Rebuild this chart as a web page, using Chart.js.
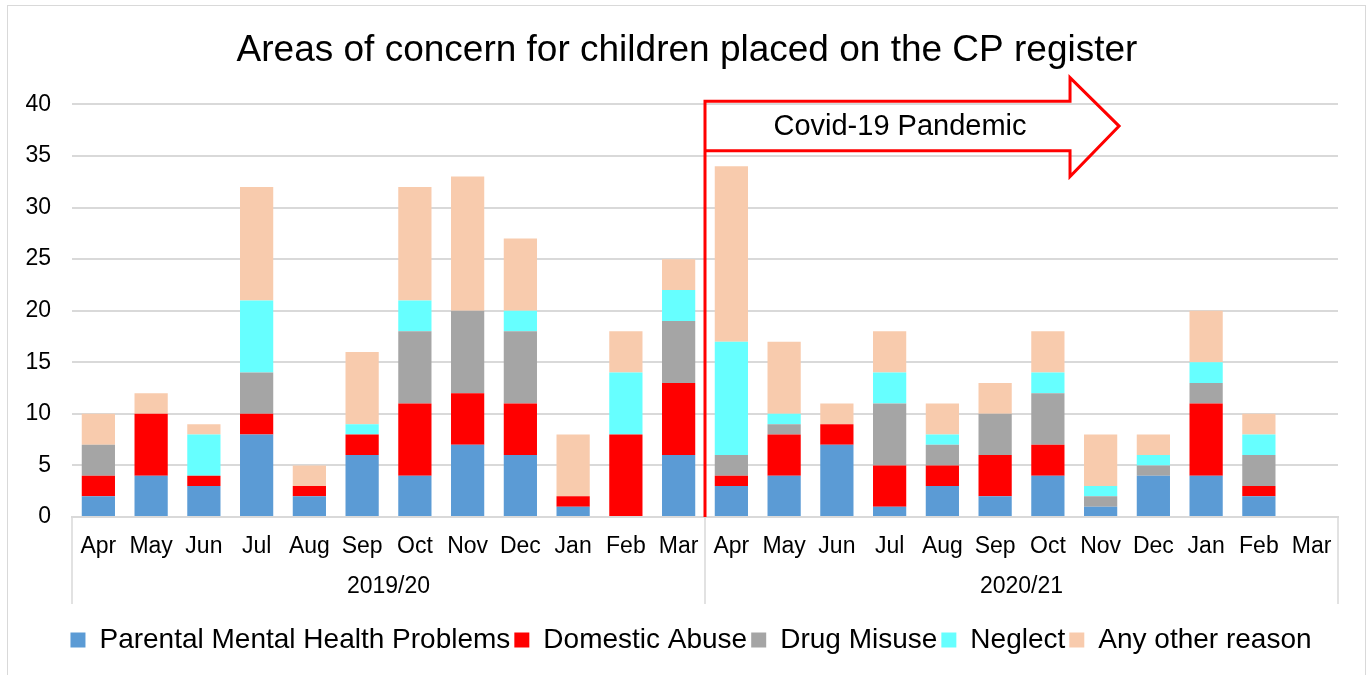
<!DOCTYPE html>
<html>
<head>
<meta charset="utf-8">
<script src="https://cdn.jsdelivr.net/npm/chart.js@4.4.1/dist/chart.umd.min.js"></script>
<style>
  html, body { margin: 0; padding: 0; background: #fff; }
  #wrap { width: 1368px; height: 675px; position: relative; }
</style>
</head>
<body>
<div id="wrap"><canvas id="cpChart" width="1368" height="675"></canvas></div>
<script>
// Data kategori (bulan) dan tahun
const months = ['Apr', 'May', 'Jun', 'Jul', 'Aug', 'Sep', 'Oct', 'Nov', 'Dec', 'Jan', 'Feb', 'Mar',
                'Apr', 'May', 'Jun', 'Jul', 'Aug', 'Sep', 'Oct', 'Nov', 'Dec', 'Jan', 'Feb', 'Mar'];
const years = ['2019/20', '2020/21'];

// Nilai per seri
const parentalMentalHealth = [2, 4, 3, 8, 2, 6, 4, 7, 6, 1, 0, 6,   3, 4, 7, 1, 3, 2, 4, 1, 4, 4, 2, 0];
const domesticAbuse        = [2, 6, 1, 2, 1, 2, 7, 5, 5, 1, 8, 7,   1, 4, 2, 4, 2, 4, 3, 0, 0, 7, 1, 0];
const drugMisuse           = [3, 0, 0, 4, 0, 0, 7, 8, 7, 0, 0, 6,   2, 1, 0, 6, 2, 4, 5, 1, 1, 2, 3, 0];
const neglect              = [0, 0, 4, 7, 0, 1, 3, 0, 2, 0, 6, 3,  11, 1, 0, 3, 1, 0, 2, 1, 1, 2, 2, 0];
const otherReason          = [3, 2, 1, 11, 2, 7, 11, 13, 7, 6, 4, 3, 17, 7, 2, 4, 3, 3, 4, 5, 2, 5, 2, 0];

const yTicks = [0, 5, 10, 15, 20, 25, 30, 35, 40];
const covidLabel = 'Covid-19 Pandemic';

const FONT = '"Liberation Sans", Arial, sans-serif';

// Geser judul dan legenda agar tengahnya sama dengan gambar asli
const shiftPlugin = {
  id: 'shift',
  afterLayout(chart) {
    chart.titleBlock.left += 18;
    chart.titleBlock.right += 18;
    chart.legend.left += 22;
    chart.legend.right += 22;
  }
};

// Plugin untuk bingkai, label tahun dan panah Covid
const extrasPlugin = {
  id: 'extras',
  afterDraw(chart) {
    const ctx = chart.ctx;
    const x = chart.scales.x;
    const y = chart.scales.y;
    const area = chart.chartArea;
    const step = x.getPixelForValue(1) - x.getPixelForValue(0);
    const split = x.getPixelForValue(11) + step / 2;

    ctx.save();
    // bingkai luar
    ctx.strokeStyle = '#d9d9d9';
    ctx.lineWidth = 1;
    ctx.strokeRect(7.5, 5.5, 1358, 700);

    // garis pemisah grup tahun
    ctx.strokeStyle = '#d9d9d9';
    ctx.lineWidth = 1.5;
    [area.left, split, area.right].forEach(px => {
      ctx.beginPath();
      ctx.moveTo(px, area.bottom);
      ctx.lineTo(px, area.bottom + 87);
      ctx.stroke();
    });

    // label tahun
    ctx.fillStyle = '#000';
    ctx.font = '23px ' + FONT;
    ctx.textAlign = 'center';
    ctx.textBaseline = 'middle';
    ctx.fillText(years[0], (area.left + split) / 2, area.bottom + 70);
    ctx.fillText(years[1], (split + area.right) / 2, area.bottom + 70);

    // panah Covid
    const bodyTop = y.getPixelForValue(40.3);
    const bodyBot = y.getPixelForValue(35.5);
    const headTop = y.getPixelForValue(42.6);
    const headBot = y.getPixelForValue(33.0);
    const tipY = (bodyTop + bodyBot) / 2;
    const headX = x.getPixelForValue(18.42);
    const tipX = x.getPixelForValue(19.35);

    ctx.strokeStyle = '#ff0000';
    ctx.lineWidth = 3;
    ctx.lineJoin = 'miter';
    ctx.beginPath();
    ctx.moveTo(split, area.bottom);
    ctx.lineTo(split, bodyTop);
    ctx.lineTo(headX, bodyTop);
    ctx.lineTo(headX, headTop);
    ctx.lineTo(tipX, tipY);
    ctx.lineTo(headX, headBot);
    ctx.lineTo(headX, bodyBot);
    ctx.lineTo(split, bodyBot);
    ctx.stroke();

    ctx.fillStyle = '#000';
    ctx.font = '29px ' + FONT;
    ctx.fillText(covidLabel, 900, tipY + 1);
    ctx.restore();
  }
};

const ctx = document.getElementById('cpChart').getContext('2d');
const makeSet = (label, data, color) => ({
  label: label,
  data: data,
  backgroundColor: color,
  borderWidth: 0,
  categoryPercentage: 1.0,
  barPercentage: 0.63,
});

const cpChart = new Chart(ctx, {
  type: 'bar',
  data: {
    labels: months,
    datasets: [
      makeSet('Parental Mental Health Problems', parentalMentalHealth, '#5b9bd5'),
      makeSet('Domestic Abuse', domesticAbuse, '#ff0000'),
      makeSet('Drug Misuse', drugMisuse, '#a5a5a5'),
      makeSet('Neglect', neglect, '#66ffff'),
      makeSet('Any other reason', otherReason, '#f8cbad'),
    ],
  },
  options: {
    responsive: false,
    animation: false,
    layout: { padding: { left: 0, right: 30, top: 10, bottom: 11 } },
    plugins: {
      title: {
        display: true,
        text: 'Areas of concern for children placed on the CP register',
        color: '#000',
        font: { family: FONT, size: 37, weight: 'normal' },
        padding: { top: 19, bottom: 31 },
      },
      legend: {
        position: 'bottom',
        labels: {
          color: '#000',
          font: { family: FONT, size: 28 },
          boxWidth: 15,
          boxHeight: 15,
          padding: 4,
        },
      },
      tooltip: { enabled: false },
    },
    scales: {
      x: {
        stacked: true,
        grid: { display: false, drawTicks: false },
        border: { display: true, color: '#d9d9d9', width: 2 },
        ticks: {
          color: '#000',
          font: { family: FONT, size: 23 },
          padding: 16,
          maxRotation: 0,
          autoSkip: false,
        },
        afterFit(scale) { scale.height = 105; },
      },
      y: {
        stacked: true,
        min: 0,
        max: 40,
        afterBuildTicks(scale) { scale.ticks = yTicks.map(v => ({ value: v })); },
        grid: { color: '#d9d9d9', lineWidth: 2, drawTicks: false },
        border: { display: false },
        ticks: {
          color: '#000',
          font: { family: FONT, size: 23 },
          padding: 21,
        },
        afterFit(scale) { scale.width = 72; },
      },
    },
  },
  plugins: [shiftPlugin, extrasPlugin],
});
</script>
</body>
</html>
